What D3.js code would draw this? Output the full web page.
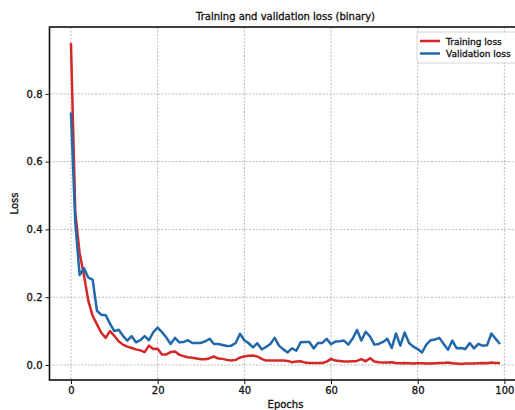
<!DOCTYPE html>
<html>
<head>
<meta charset="utf-8">
<script src="https://cdn.jsdelivr.net/npm/d3@7"></script>
<style>
  body { margin: 0; background: #fff; }
  svg { display: block; font-family: "DejaVu Sans", sans-serif; }
  svg text { stroke: #111; stroke-width: 0.3px; }
</style>
</head>
<body>
<div id="chart"></div>
<script>
const epochs = d3.range(0, 100);

const trainingLoss = [
  0.95, 0.45, 0.33, 0.265, 0.19, 0.145, 0.12, 0.095, 0.08, 0.1,
  0.086, 0.07, 0.06, 0.054, 0.05, 0.046, 0.043, 0.038, 0.057, 0.047,
  0.048, 0.031, 0.031, 0.038, 0.04, 0.03, 0.026, 0.023, 0.021, 0.019,
  0.017, 0.017, 0.02, 0.025, 0.019, 0.018, 0.015, 0.013, 0.015, 0.022,
  0.025, 0.027, 0.028, 0.025, 0.018, 0.013, 0.013, 0.013, 0.013, 0.013,
  0.012, 0.008, 0.01, 0.011, 0.007, 0.006, 0.006, 0.006, 0.006, 0.01,
  0.018, 0.013, 0.012, 0.01, 0.01, 0.011, 0.012, 0.017, 0.011, 0.02,
  0.01, 0.008, 0.007, 0.007, 0.008, 0.006, 0.005, 0.006, 0.005, 0.004,
  0.005, 0.005, 0.004, 0.004, 0.005, 0.006, 0.006, 0.007, 0.005, 0.004,
  0.003, 0.004, 0.004, 0.004, 0.005, 0.006, 0.005, 0.007, 0.006, 0.006,
];

const validationLoss = [
  0.745, 0.42, 0.265, 0.285, 0.258, 0.252, 0.16, 0.148, 0.147, 0.122,
  0.1, 0.104, 0.086, 0.072, 0.085, 0.067, 0.073, 0.085, 0.073, 0.097,
  0.11, 0.097, 0.081, 0.062, 0.08, 0.067, 0.068, 0.073, 0.065, 0.065,
  0.065, 0.07, 0.077, 0.062, 0.062, 0.059, 0.056, 0.057, 0.065, 0.092,
  0.073, 0.064, 0.052, 0.064, 0.046, 0.053, 0.062, 0.08, 0.057, 0.046,
  0.037, 0.049, 0.042, 0.067, 0.068, 0.068, 0.049, 0.065, 0.065, 0.077,
  0.061, 0.069, 0.07, 0.072, 0.06, 0.078, 0.103, 0.072, 0.098, 0.084,
  0.06, 0.062, 0.068, 0.077, 0.05, 0.093, 0.057, 0.096, 0.065, 0.054,
  0.047, 0.037, 0.06, 0.073, 0.075, 0.08, 0.062, 0.045, 0.072, 0.049,
  0.05, 0.047, 0.065, 0.049, 0.062, 0.057, 0.058, 0.093, 0.077, 0.062,
];

const xTicks = [0, 20, 40, 60, 80, 100];
const yTicks = [0.0, 0.2, 0.4, 0.6, 0.8];

const series = [
  { name: 'Training loss', values: trainingLoss, color: '#d62728' },
  { name: 'Validation loss', values: validationLoss, color: '#2169ab' },
];

const W = 515;
const H = 410;
const m = { t: 27, l: 49.5, w: 472, h: 353 };

const svg = d3.select('#chart').append('svg').attr('width', W).attr('height', H);

// matplotlib style 5% margins
const xPad = (d3.max(epochs) - d3.min(epochs)) * 0.05;
const allVals = trainingLoss.concat(validationLoss);
const [vMin, vMax] = d3.extent(allVals);
const yPad = (vMax - vMin) * 0.05;

const x = d3.scaleLinear().domain([d3.min(epochs) - xPad, d3.max(epochs) + xPad]).range([m.l, m.l + m.w]);
const y = d3.scaleLinear().domain([vMin - yPad, vMax + yPad]).range([m.t + m.h, m.t]);

svg.append('defs').append('clipPath').attr('id', 'plot')
  .append('rect').attr('x', m.l).attr('y', m.t).attr('width', m.w).attr('height', m.h);

// grid
const grid = svg.append('g').attr('stroke', '#a8a8a8').attr('stroke-width', 0.8).attr('stroke-dasharray', '2,1.5');
grid.selectAll('line.gx').data(xTicks).join('line')
  .attr('x1', (d) => x(d)).attr('x2', (d) => x(d))
  .attr('y1', m.t).attr('y2', m.t + m.h);
grid.selectAll('line.gy').data(yTicks).join('line')
  .attr('x1', m.l).attr('x2', m.l + m.w)
  .attr('y1', (d) => y(d)).attr('y2', (d) => y(d));

// lines
const line = d3.line().x((d, i) => x(epochs[i])).y((d) => y(d));
svg.append('g').attr('clip-path', 'url(#plot)')
  .selectAll('path').data(series).join('path')
  .attr('fill', 'none')
  .attr('stroke', (d) => d.color)
  .attr('stroke-width', 2.5)
  .attr('stroke-linejoin', 'round')
  .attr('d', (d) => line(d.values));

// axes
const xAxis = svg.append('g').attr('transform', `translate(0,${m.t + m.h})`)
  .call(d3.axisBottom(x).tickValues(xTicks).tickFormat(d3.format('d')).tickSizeOuter(0).tickSize(4).tickPadding(3));
const yAxis = svg.append('g').attr('transform', `translate(${m.l},0)`)
  .call(d3.axisLeft(y).tickValues(yTicks).tickFormat(d3.format('.1f')).tickSizeOuter(0).tickSize(4).tickPadding(3));
[xAxis, yAxis].forEach((g) => {
  g.select('.domain').remove();
  g.selectAll('text').attr('font-size', 10).attr('fill', '#111').attr('font-family', '"DejaVu Sans", sans-serif');
  g.selectAll('line').attr('stroke', '#111').attr('stroke-width', 1);
});

// spines
svg.append('rect').attr('x', m.l).attr('y', m.t).attr('width', m.w).attr('height', m.h)
  .attr('fill', 'none').attr('stroke', '#111').attr('stroke-width', 1.6);

// labels
svg.append('text').attr('x', m.l + m.w / 2).attr('y', 20).attr('text-anchor', 'middle')
  .attr('font-size', 10).attr('fill', '#111').text('Training and validation loss (binary)');
svg.append('text').attr('x', m.l + m.w / 2).attr('y', 408).attr('text-anchor', 'middle')
  .attr('font-size', 10).attr('fill', '#111').text('Epochs');
svg.append('text').attr('transform', `translate(18,${m.t + m.h / 2}) rotate(-90)`).attr('text-anchor', 'middle')
  .attr('font-size', 10).attr('fill', '#111').text('Loss');

// legend
const lg = svg.append('g').attr('transform', 'translate(417,32)');
lg.append('rect').attr('x', 0).attr('y', 0).attr('width', 110).attr('height', 31).attr('rx', 2)
  .attr('fill', '#fff').attr('fill-opacity', 0.85).attr('stroke', '#ccc').attr('stroke-width', 0.8);
const items = lg.selectAll('g.item').data(series).join('g')
  .attr('transform', (d, i) => `translate(0,${9 + i * 12.5})`);
items.append('line').attr('x1', 3).attr('x2', 23).attr('y1', 0).attr('y2', 0)
  .attr('stroke', (d) => d.color).attr('stroke-width', 2.5);
items.append('text').attr('x', 29).attr('y', 3.5).attr('font-size', 9).attr('fill', '#111').text((d) => d.name);
</script>
</body>
</html>
